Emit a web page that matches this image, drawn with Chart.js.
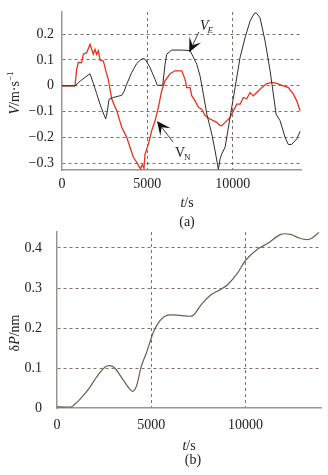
<!DOCTYPE html>
<html>
<head>
<meta charset="utf-8">
<script src="https://cdn.jsdelivr.net/npm/chart.js@4/dist/chart.umd.min.js"></script>
<style>
  html, body { margin: 0; padding: 0; background: #fff; }
  #wrap { position: relative; width: 328px; height: 475px; overflow: hidden; font-family: "Liberation Serif", serif; color: #222; }
  canvas { position: absolute; left: 0; }
  .lbl { position: absolute; white-space: nowrap; font-size: 14px; transform: translate(-50%, -50%); }
  .rot { transform: translate(-50%, -50%) rotate(-90deg); }
  i { font-style: italic; }
</style>
</head>
<body>
<div id="wrap">
  <canvas id="velocity" width="328" height="230" style="top:0"></canvas>
  <canvas id="drift" width="328" height="245" style="top:230px"></canvas>
  <div class="lbl rot" style="left:14px; top:93px"><i>V</i>/m·s<sup style="font-size:9px">−1</sup></div>
  <div class="lbl" style="left:187px; top:203px"><i>t</i>/s</div>
  <div class="lbl" style="left:187px; top:222px">(a)</div>
  <div class="lbl rot" style="left:15px; top:333px">δ<i>P</i>/nm</div>
  <div class="lbl" style="left:189px; top:446px"><i>t</i>/s</div>
  <div class="lbl" style="left:193px; top:460px">(b)</div>
</div>
<script>
// east velocity V_E (black)
const timeE = [0, 760, 1100, 1400, 1640, 1835, 2030, 2227, 2420, 2560, 2650, 2755, 3000, 3300, 3500, 3650, 3790, 4080, 4375, 4600, 4765, 4900, 5160, 5450, 5585, 5900, 6036, 6135, 6428, 7000, 7500, 7700, 7893, 8087, 8280, 8480, 8772, 8966, 9160, 9260, 9358, 9552, 9845, 10138, 10430, 10724, 11017, 11250, 11370, 11600, 11895, 12190, 12380, 12540, 12775, 13070, 13260, 13460, 13750, 13950];
const velE  = [0, 0, 0.02, 0.035, 0.047, 0.01, -0.03, -0.071, -0.105, -0.128, -0.1, -0.052, -0.045, -0.04, -0.037, -0.02, 0.006, 0.051, 0.086, 0.1, 0.106, 0.1, 0.07, 0.025, 0.002, 0.002, 0.083, 0.122, 0.138, 0.138, 0.136, 0.11, 0.083, 0.038, -0.032, -0.109, -0.186, -0.25, -0.322, -0.282, -0.263, -0.237, -0.122, -0.007, 0.109, 0.186, 0.25, 0.278, 0.282, 0.263, 0.173, 0.058, -0.032, -0.109, -0.135, -0.199, -0.227, -0.226, -0.205, -0.176];

// north velocity V_N (red)
const timeN = [0, 760, 860, 955, 1150, 1250, 1445, 1640, 1740, 1835, 1935, 2030, 2130, 2227, 2420, 2600, 2715, 2910, 3205, 3500, 3790, 3985, 4180, 4375, 4500, 4600, 4700, 4800, 4865, 5060, 5255, 5450, 5645, 5840, 6036, 6330, 6620, 7015, 7210, 7305, 7500, 7600, 7795, 7990, 8185, 8380, 8670, 9065, 9260, 9360, 9552, 9845, 10040, 10235, 10430, 10625, 10820, 11017, 11210, 11405, 11700, 11995, 12290, 12580, 12970, 13260, 13555, 13750, 13950];
const velN  = [0, 0, 0.064, 0.09, 0.09, 0.122, 0.128, 0.16, 0.141, 0.122, 0.141, 0.122, 0.135, 0.099, 0.096, 0.05, 0.024, -0.05, -0.096, -0.16, -0.199, -0.237, -0.276, -0.295, -0.31, -0.32, -0.305, -0.318, -0.264, -0.225, -0.173, -0.135, -0.083, -0.019, 0.019, 0.047, 0.058, 0.058, 0.025, -0.007, -0.007, -0.038, -0.058, -0.083, -0.09, -0.115, -0.128, -0.141, -0.154, -0.154, -0.141, -0.122, -0.096, -0.071, -0.071, -0.045, -0.05, -0.026, -0.039, -0.026, -0.007, 0.009, 0.013, 0.009, 0, -0.007, -0.032, -0.058, -0.096];

// position error dP
const timeP = [0, 775, 900, 1125, 1650, 2180, 2535, 2800, 3060, 3500, 3855, 4030, 4210, 4470, 4735, 5000, 5175, 5440, 5700, 5965, 6585, 7200, 7640, 8170, 8700, 9045, 9570, 10015, 10630, 11160, 11865, 12390, 12830, 13270, 13530, 13890];
const dispP = [0.003, 0.003, 0.008, 0.017, 0.046, 0.083, 0.102, 0.106, 0.1, 0.071, 0.047, 0.042, 0.054, 0.104, 0.137, 0.175, 0.196, 0.217, 0.229, 0.233, 0.231, 0.231, 0.258, 0.283, 0.297, 0.308, 0.337, 0.37, 0.397, 0.411, 0.434, 0.434, 0.425, 0.421, 0.425, 0.439];

const timeTicks = [0, 5000, 10000];
const velTicks = [-0.3, -0.2, -0.1, 0, 0.1, 0.2];
const dispTicks = [0, 0.1, 0.2, 0.3, 0.4];

const gridColor = '#5b4f48';
const axisColor = '#9a9591';
const tickFont = { family: 'Liberation Serif', size: 14 };

function pairs(xs, ys) {
  return xs.map((x, i) => ({ x: x, y: ys[i] }));
}

function fixedTicks(list) {
  return axis => { axis.ticks = list.map(v => ({ value: v })); };
}

function fitAxis(size, vertical) {
  return axis => {
    if (vertical) axis.width = size; else axis.height = size;
    axis.paddingTop = 0; axis.paddingBottom = 0;
    axis.paddingLeft = 0; axis.paddingRight = 0;
  };
}

// arrows with V_E / V_N labels on the velocity chart
const arrowLabels = {
  id: 'arrowLabels',
  afterDatasetsDraw(chart) {
    const ctx = chart.ctx;
    const xs = chart.scales.x, ys = chart.scales.y;
    const marks = [
      { tip: [7450, 0.13], tail: [8025, 0.208], text: [8084, 0.2155], main: 'V', sub: 'E', italic: true },
      { tip: [5565, -0.136], tail: [6502, -0.217], text: [6619, -0.275], main: 'V', sub: 'N', italic: false }
    ];
    marks.forEach(m => {
      const tx = xs.getPixelForValue(m.tip[0]), ty = ys.getPixelForValue(m.tip[1]);
      const sx = xs.getPixelForValue(m.tail[0]), sy = ys.getPixelForValue(m.tail[1]);
      const ang = Math.atan2(ty - sy, tx - sx);
      ctx.save();
      ctx.strokeStyle = '#222';
      ctx.lineWidth = 0.9;
      ctx.beginPath();
      ctx.moveTo(sx, sy);
      ctx.lineTo(tx - 8 * Math.cos(ang), ty - 8 * Math.sin(ang));
      ctx.stroke();
      // arrow head
      const len = 14, half = 6.5;
      const bx = tx - len * Math.cos(ang), by = ty - len * Math.sin(ang);
      ctx.fillStyle = '#111';
      ctx.beginPath();
      ctx.moveTo(tx, ty);
      ctx.lineTo(bx + half * Math.sin(ang), by - half * Math.cos(ang));
      ctx.lineTo(tx - 0.55 * len * Math.cos(ang), ty - 0.55 * len * Math.sin(ang));
      ctx.lineTo(bx - half * Math.sin(ang), by + half * Math.cos(ang));
      ctx.closePath();
      ctx.fill();
      // label
      const lx = xs.getPixelForValue(m.text[0]), ly = ys.getPixelForValue(m.text[1]);
      ctx.fillStyle = '#222';
      ctx.textBaseline = 'alphabetic';
      ctx.textAlign = 'left';
      ctx.font = (m.italic ? 'italic ' : '') + '14px "Liberation Serif"';
      ctx.fillText(m.main, lx, ly);
      const w = ctx.measureText(m.main).width;
      ctx.font = (m.italic ? 'italic ' : '') + '9px "Liberation Serif"';
      ctx.fillText(m.sub, lx + w - 1, ly + 3);
      ctx.restore();
    });
  }
};

const velCtx = document.getElementById('velocity').getContext('2d');
const velChart = new Chart(velCtx, {
  type: 'line',
  data: {
    datasets: [
      { label: 'VE', data: pairs(timeE, velE), borderColor: '#2f2b2b', borderWidth: 1, pointRadius: 0, tension: 0 },
      { label: 'VN', data: pairs(timeN, velN), borderColor: '#e8301c', borderWidth: 1.3, pointRadius: 0, tension: 0 }
    ]
  },
  options: {
    responsive: false,
    animation: false,
    layout: { padding: { left: 0, right: 27, top: 12, bottom: 0 } },
    plugins: { legend: { display: false }, tooltip: { enabled: false } },
    scales: {
      x: {
        type: 'linear', min: 0, max: 14000,
        afterBuildTicks: fixedTicks(timeTicks),
        afterFit: fitAxis(60, false),
        grid: { drawTicks: false, color: c => c.tick && c.tick.value === 0 ? 'transparent' : gridColor, lineWidth: 0.8 },
        border: { color: axisColor, width: 1.5, dash: [3, 3] },
        ticks: { font: tickFont, color: '#222', padding: 6, maxRotation: 0, callback: v => String(v) }
      },
      y: {
        min: -0.325, max: 0.285,
        afterBuildTicks: fixedTicks(velTicks),
        afterFit: fitAxis(62, true),
        grid: { drawTicks: false, color: gridColor, lineWidth: 0.8 },
        border: { color: axisColor, width: 1.5, dash: [3, 3] },
        ticks: { font: tickFont, color: '#222', padding: 8, callback: v => v === 0 ? '0' : v.toFixed(1).replace('-', '−') }
      }
    }
  },
  plugins: [arrowLabels]
});

const driftCtx = document.getElementById('drift').getContext('2d');
const driftChart = new Chart(driftCtx, {
  type: 'line',
  data: {
    datasets: [
      { label: 'dP', data: pairs(timeP, dispP), borderColor: '#6b5e56', borderWidth: 1.2, pointRadius: 0, tension: 0.3 }
    ]
  },
  options: {
    responsive: false,
    animation: false,
    layout: { padding: { left: 0, right: 7, top: 2, bottom: 0 } },
    plugins: { legend: { display: false }, tooltip: { enabled: false } },
    scales: {
      x: {
        type: 'linear', min: 0, max: 14000,
        afterBuildTicks: fixedTicks(timeTicks),
        afterFit: fitAxis(67, false),
        grid: { drawTicks: false, color: c => c.tick && c.tick.value === 0 ? 'transparent' : gridColor, lineWidth: 0.8 },
        border: { color: axisColor, width: 1.5, dash: [3, 3] },
        ticks: { font: tickFont, color: '#222', padding: 9, maxRotation: 0, callback: v => String(v) }
      },
      y: {
        min: 0, max: 0.44,
        afterBuildTicks: fixedTicks(dispTicks),
        afterFit: fitAxis(57, true),
        grid: { drawTicks: false, color: c => c.tick && c.tick.value === 0 ? 'transparent' : gridColor, lineWidth: 0.8 },
        border: { color: axisColor, width: 1.5, dash: [3, 3] },
        ticks: { font: tickFont, color: '#222', padding: 15, callback: v => v === 0 ? '0' : v.toFixed(1) }
      }
    }
  }
});
</script>
</body>
</html>
